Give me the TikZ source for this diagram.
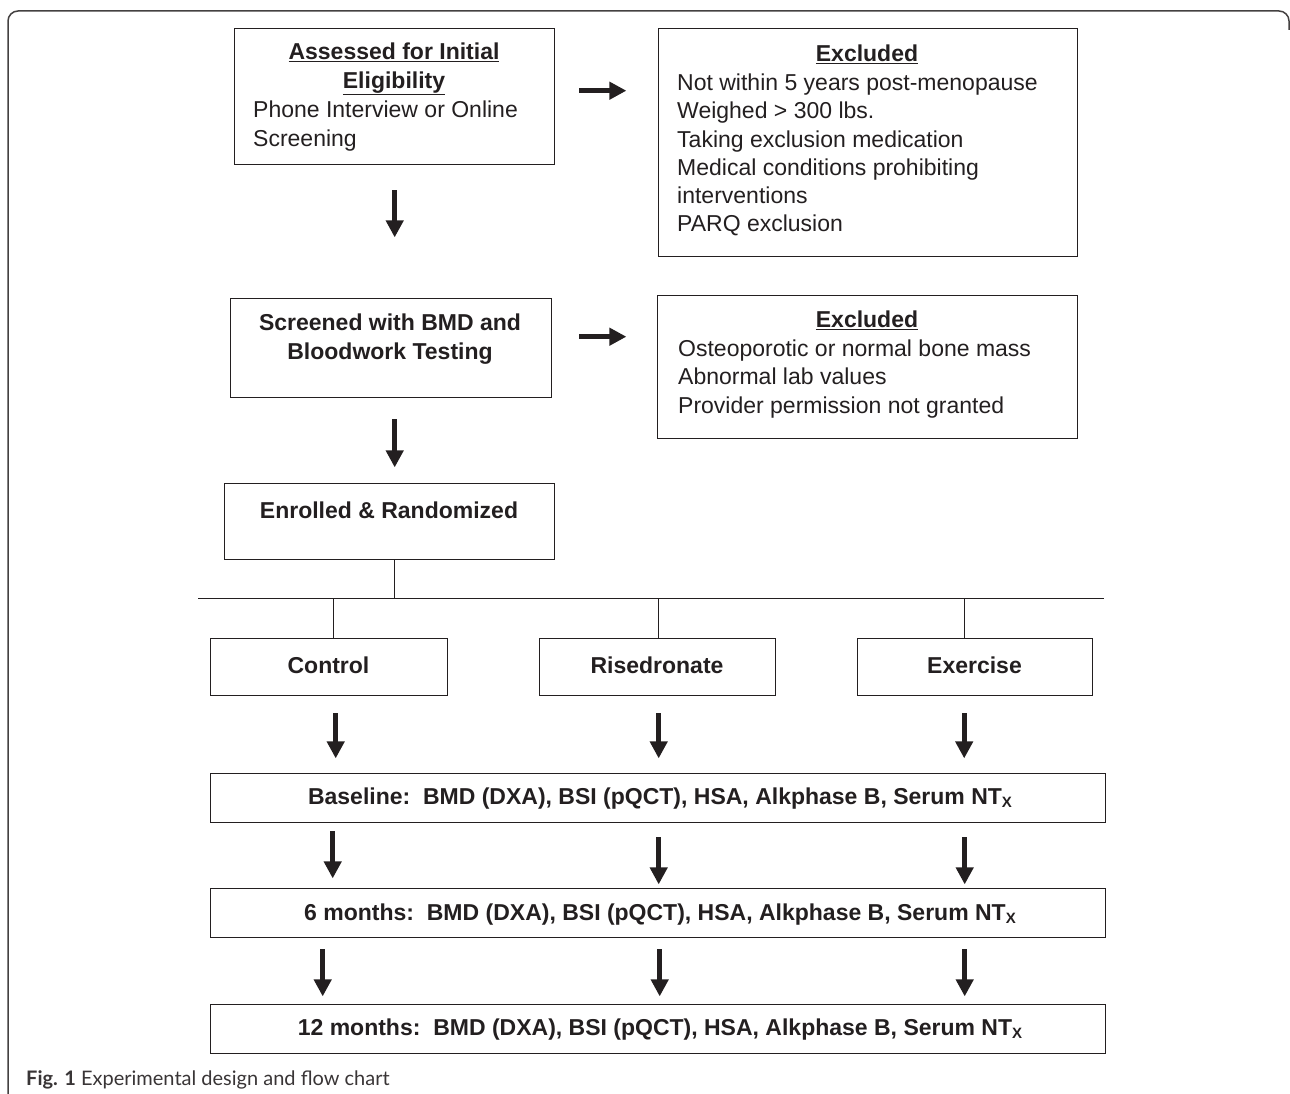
\documentclass[tikz,border=0pt]{standalone}
\usepackage{fontspec}
\setmainfont{Liberation Sans}
\newfontfamily\capfont{Lato}
\usetikzlibrary{arrows.meta,calc}
\definecolor{ink}{HTML}{231F20}
\newcommand\ntsubx{\raisebox{-2.5pt}{\fontsize{15}{15}\selectfont X}}
\begin{document}
\begin{tikzpicture}[x=1pt,y=-1pt,
  box/.style={draw=ink, line width=1.4pt, inner sep=0pt, anchor=north west},
  txt/.style={inner sep=0pt, text=ink, font=\fontsize{23}{28.3}\selectfont},
  btxt/.style={inner sep=0pt, text=ink, font=\fontsize{23}{28.8}\selectfont\bfseries},
  arr/.style={draw=ink, line width=5pt, -{Triangle[length=17pt,width=17pt]}},
  link/.style={draw=ink, line width=1pt},
  frame/.style={draw=ink!85, line width=1.5pt}
]
\useasboundingbox (0,0) rectangle (1290,1094);
% outer frame
\draw[frame] (8,1100) -- (8,21) arc[start angle=180, end angle=90, radius=10pt] -- (1279,11) arc[start angle=90, end angle=0, radius=10pt] -- (1289,30);

% boxes
\node[box, minimum width=320pt, minimum height=136pt] (A) at (234,28) {};
\node[box, minimum width=419pt, minimum height=228pt] (B) at (658,28) {};
\node[box, minimum width=321pt, minimum height=99pt] (C) at (230,298) {};
\node[box, minimum width=420pt, minimum height=143pt] (D) at (657,295) {};
\node[box, minimum width=330pt, minimum height=76pt] (E) at (224,483) {};
\node[box, minimum width=237pt, minimum height=57pt] (F1) at (210,638) {};
\node[box, minimum width=236pt, minimum height=57pt] (F2) at (539,638) {};
\node[box, minimum width=235pt, minimum height=57pt] (F3) at (857,638) {};
\node[box, minimum width=895pt, minimum height=49pt] (G) at (210,773) {};
\node[box, minimum width=895pt, minimum height=49pt] (H) at (210,888) {};
\node[box, minimum width=895pt, minimum height=49pt] (I) at (210,1004) {};

% texts
\node[btxt, align=center] (Ah) at (394,69) {\underline{Assessed for Initial}\\\underline{Eligibility}};
\node[txt, align=left, anchor=west] (Ab) at (253,126) {Phone Interview or Online\\Screening};
\node[btxt] (Bh) at (867,54) {\underline{Excluded}};
\node[txt, align=left, anchor=west] (Bb) at (677,155) {Not within 5 years post-menopause\\Weighed > 300 lbs.\\Taking exclusion medication\\Medical conditions prohibiting\\interventions\\PARQ exclusion};
\node[btxt, align=center] (Ct) at (390,339.5) {Screened with BMD and\\Bloodwork Testing};
\node[btxt] (Dh) at (867,320) {\underline{Excluded}};
\node[txt, align=left, anchor=west] (Db) at (678,379) {Osteoporotic or normal bone mass\\Abnormal lab values\\Provider permission not granted};
\node[btxt] (Et) at (389,510) {Enrolled \& Randomized};
\node[btxt] (F1t) at (328.5,665) {Control};
\node[btxt] (F2t) at (657,665) {Risedronate};
\node[btxt] (F3t) at (974.5,665) {Exercise};
\node[btxt] (Gt) at (660,799) {Baseline:\ \ BMD (DXA), BSI (pQCT), HSA, Alkphase B, Serum NT\ntsubx};
\node[btxt] (Ht) at (660,915) {6 months:\ \ BMD (DXA), BSI (pQCT), HSA, Alkphase B, Serum NT\ntsubx};
\node[btxt] (It) at (660,1030) {12 months:\ \ BMD (DXA), BSI (pQCT), HSA, Alkphase B, Serum NT\ntsubx};

% caption
\node[anchor=base west, inner sep=0pt, text=ink!90, font=\capfont\fontsize{20}{20}\selectfont] (cap) at (26,1085) {\textbf{Fig. 1} Experimental design and flow chart};

% arrows top part
\draw[arr] ($(A.east)+(24,-6)$) -- ++(47,0);
\draw[arr] ($(A.south)+(0,25)$) -- ++(0,47);
\draw[arr] ($(C.east)+(27,-11.5)$) -- ++(47,0);
\draw[arr] ($(C.south)+(3.5,21)$) -- ++(0,48);

% tree
\coordinate (jn) at ($(E.south)+(5,39)$);
\coordinate (hl) at (198,598);
\coordinate (hr) at (1104,598);
\coordinate (b1) at (333,598);
\coordinate (b2) at (658.5,598);
\coordinate (b3) at (964,598);
\draw[link] ($(E.south)+(5,0)$) -- (jn);
\draw[link] (hl) -- (hr);
\draw[link] (b1) -- (b1 |- F1.north);
\draw[link] (b2) -- (b2 |- F2.north);
\draw[link] (b3) -- (b3 |- F3.north);

% arrows rows
\draw[arr] ($(F1.south)+(6.5,17)$) -- ++(0,45);
\draw[arr] ($(F2.south)+(1,17)$) -- ++(0,45);
\draw[arr] ($(F3.south)+(-11,17)$) -- ++(0,45);
\draw[arr] ($(G.south)+(-325.5,8)$) -- ++(0,47);
\draw[arr] ($(G.south)+(0.5,14)$) -- ++(0,47);
\draw[arr] ($(G.south)+(306.5,14)$) -- ++(0,47);
\draw[arr] ($(H.south)+(-335.5,11)$) -- ++(0,47);
\draw[arr] ($(H.south)+(1.5,11)$) -- ++(0,47);
\draw[arr] ($(H.south)+(306.5,11)$) -- ++(0,47);
\end{tikzpicture}
\end{document}
